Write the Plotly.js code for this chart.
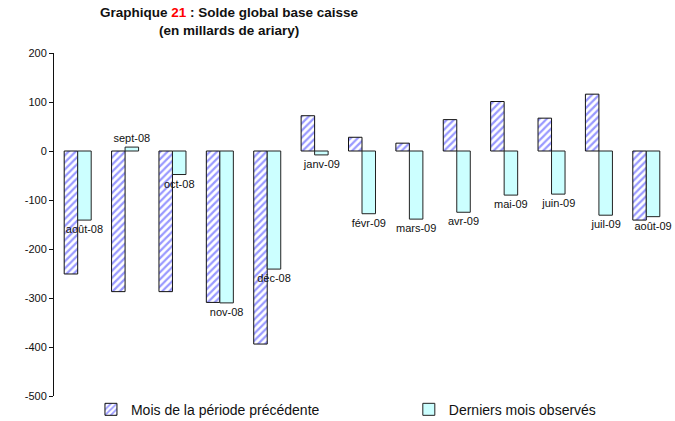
<!DOCTYPE html>
<html>
<head>
<meta charset="utf-8">
<script src="https://cdn.plot.ly/plotly-3.0.1.min.js"></script>
<style>html,body{margin:0;padding:0;background:#fff;}#chart{width:675px;height:421px;}</style>
</head>
<body>
<div id="chart"></div>
<script>
// Data
var categories = ["août-08","sept-08","oct-08","nov-08","déc-08","janv-09","févr-09","mars-09","avr-09","mai-09","juin-09","juil-09","août-09"];
var precedente = [-251, -287, -287, -309, -394, 72, 28, 16, 64, 101, 67, 116, -141];
var observes   = [-141, 8, -48, -310, -241, -8, -128, -139, -125, -90, -88, -131, -134];
var yTicks = [-500, -400, -300, -200, -100, 0, 100, 200];

var FONT = "'Liberation Sans', Arial, sans-serif";

var traces = [
  {
    type: 'bar',
    name: 'Mois de la période précédente',
    legend: 'legend',
    x: categories,
    y: precedente,
    marker: {
      color: '#ffffff',
      line: {color: '#111111', width: 1},
      pattern: {shape: '/', fgcolor: '#9999ff', bgcolor: '#ffffff', size: 5, solidity: 0.45}
    },
    hoverinfo: 'x+y'
  },
  {
    type: 'bar',
    name: 'Derniers mois observés',
    legend: 'legend2',
    x: categories,
    y: observes,
    text: categories,
    textposition: 'outside',
    textangle: 0,
    constraintext: 'none',
    cliponaxis: false,
    textfont: {family: FONT, size: 11, color: '#111111'},
    marker: {color: '#ccffff', line: {color: '#222222', width: 1}},
    hoverinfo: 'x+y'
  }
];

var legendCommon = {
  orientation: 'h',
  xanchor: 'left',
  y: -0.04, yanchor: 'middle',
  font: {family: FONT, size: 14, color: '#111111'},
  bgcolor: 'rgba(0,0,0,0)'
};

var layout = {
  width: 675,
  height: 421,
  margin: {l: 54, r: 5, t: 53, b: 25, autoexpand: false},
  paper_bgcolor: '#ffffff',
  plot_bgcolor: '#ffffff',
  font: {family: FONT, size: 11, color: '#111111'},
  annotations: [{
    text: "<b>Graphique <span style='color:#ff0000'>21</span> : Solde global base caisse<br>(en millards de ariary)</b>",
    font: {family: FONT, size: 13.5, color: '#111111'},
    xref: 'paper', yref: 'paper',
    x: (229.5 - 54) / 616, xanchor: 'center',
    y: 1 + 13 / 343, yanchor: 'bottom',
    showarrow: false
  }],
  barmode: 'group',
  bargap: 0.43,
  bargroupgap: 0,
  showlegend: true,
  legend: Object.assign({}, legendCommon, {x: 0.060}),
  legend2: Object.assign({}, legendCommon, {x: 0.576}),
  xaxis: {
    showticklabels: false,
    ticks: '',
    showline: false,
    showgrid: false,
    zeroline: false
  },
  yaxis: {
    range: [-500, 200],
    tickvals: yTicks,
    ticktext: yTicks.map(String),
    ticks: 'outside',
    ticklen: 4,
    tickcolor: '#111111',
    showline: true,
    linecolor: '#111111',
    linewidth: 1,
    showgrid: false,
    zeroline: false,
    tickfont: {family: FONT, size: 11, color: '#111111'}
  }
};

Plotly.newPlot('chart', traces, layout, {displayModeBar: false, staticPlot: true});
</script>
</body>
</html>
